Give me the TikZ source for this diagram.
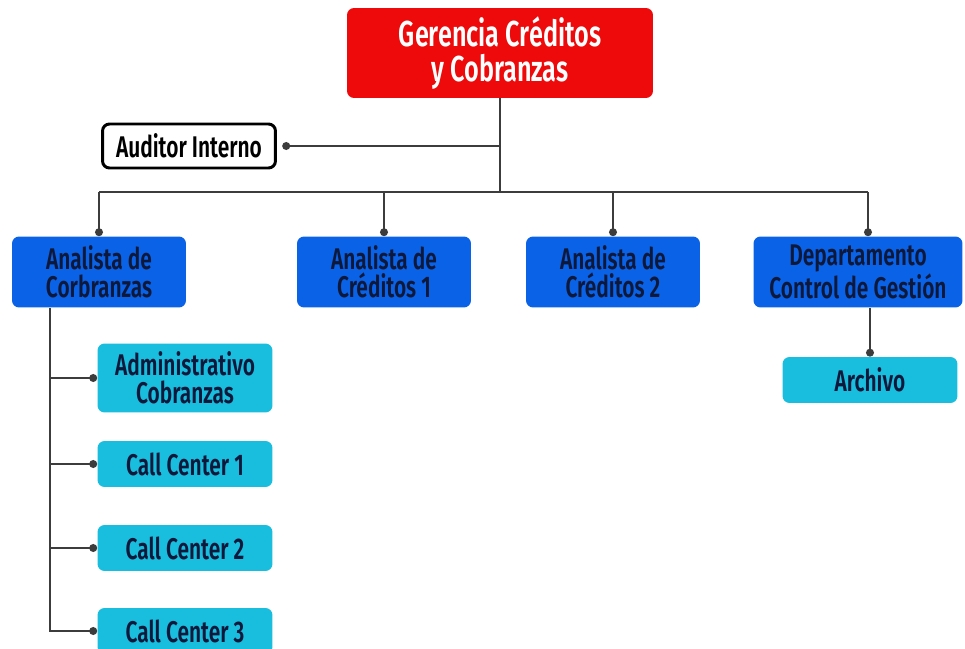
\documentclass[tikz,border=0pt]{standalone}
\usepackage{fontspec}
\setmainfont{Fira Sans SemiBold}[FakeStretch=0.7]
\usepackage{tikz}
\usetikzlibrary{shapes,arrows.meta,positioning,calc}

\definecolor{rojoger}{RGB}{238,10,10}
\definecolor{azulan}{RGB}{10,98,230}
\definecolor{celeste}{RGB}{25,190,222}
\definecolor{tinta}{RGB}{14,24,58}
\definecolor{linea}{RGB}{60,60,60}

\begin{document}
\begin{tikzpicture}[x=0.02cm, y=-0.02cm,
    caja/.style={rounded corners=4pt, align=center, inner sep=0pt},
    gerencia/.style={caja, fill=rojoger, text=white, minimum width=6.12cm, minimum height=1.8cm,
        font=\fontsize{20.5}{19.5}\selectfont},
    auditor/.style={caja, draw=black, line width=1.7pt, fill=white, text=black,
        minimum width=3.46cm, minimum height=0.88cm, font=\fontsize{17}{15.8}\selectfont},
    analista/.style={caja, fill=azulan, text=tinta, minimum width=3.48cm, minimum height=1.42cm,
        font=\fontsize{17}{15.8}\selectfont},
    apoyo/.style={caja, fill=celeste, text=tinta, minimum width=3.5cm, minimum height=0.92cm,
        font=\fontsize{17}{15.8}\selectfont},
    enlace/.style={draw=linea, line width=1.1pt},
    punto/.style={enlace, -{Circle[length=4.5pt]}}]

\useasboundingbox (0,0) rectangle (965,649);

% cabeza
\node[gerencia] (ger) at (500,53) {Gerencia Créditos\\y Cobranzas};
\node[auditor] (aud) at (189,146) {Auditor Interno};

% segundo nivel
\node[analista] (acob) at (99,272) {Analista de\\Corbranzas};
\node[analista] (acr1) at (384,272) {Analista de\\Créditos 1};
\node[analista] (acr2) at (613,272) {Analista de\\Créditos 2};
\node[analista, minimum width=4.18cm] (dcg) at (858,272) {Departamento\\Control de Gestión};

% apoyo
\node[apoyo] (arch) at (870,380) {Archivo};
\node[apoyo, minimum height=1.38cm] (adm) at (185,378) {Administrativo\\Cobranzas};
\node[apoyo] (cc1) at (185,464) {Call Center 1};
\node[apoyo] (cc2) at (185,548) {Call Center 2};
\node[apoyo] (cc3) at (185,631) {Call Center 3};

% lineas
\coordinate (bus) at (500,192);
\coordinate (jaud) at (500,146);
\coordinate (bdcg) at (868,192);
\coordinate (vsup) at (50,308);
\coordinate (vinf) at (50,632);

\draw[enlace] (ger.south) -- (bus);
\draw[punto] (jaud) -- ([xshift=3pt]aud.east);
\draw[enlace] (acob.north |- bus) -- (bdcg);
\draw[punto] (acob.north |- bus) -- (acob.north);
\draw[punto] (acr1.north |- bus) -- (acr1.north);
\draw[punto] (acr2.north |- bus) -- (acr2.north);
\draw[punto] (bdcg) -- (bdcg |- dcg.north);
\draw[punto] (arch.north |- dcg.south) -- (arch.north);

\draw[enlace] (vsup) -- (vinf);
\foreach \n in {adm,cc1,cc2,cc3}
    \draw[punto] (vsup |- \n) -- (\n.west);

\end{tikzpicture}
\end{document}
